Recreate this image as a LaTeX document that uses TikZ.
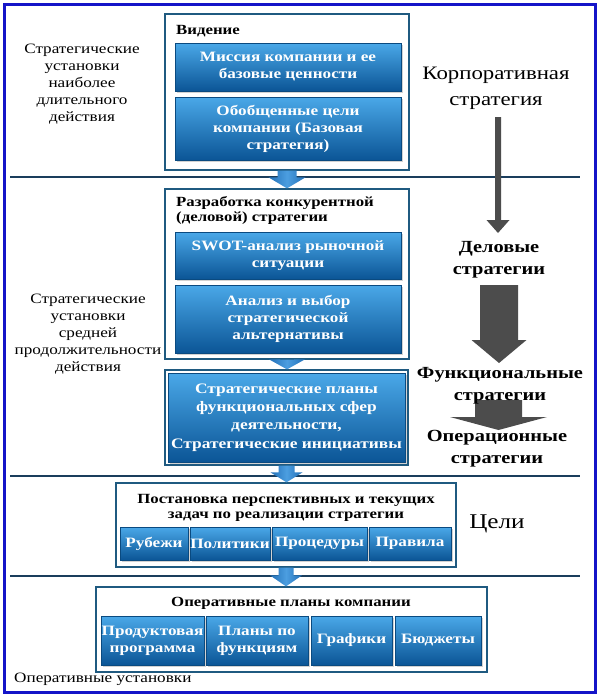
\documentclass[tikz,border=0pt]{standalone}
\usepackage{fontspec}
\setmainfont{Liberation Serif}[FakeStretch=1.2]
\usetikzlibrary{shadows,calc}
\definecolor{frameblue}{HTML}{1414C8}
\definecolor{boxline}{HTML}{1F5A80}
\definecolor{sepline}{HTML}{1A3D5C}
\definecolor{btop}{HTML}{4AA8E8}
\definecolor{bbot}{HTML}{0B5596}
\definecolor{bedge}{HTML}{0A4A80}
\definecolor{arrowblue}{HTML}{2270B8}
\definecolor{arrowlight}{HTML}{4C9EE0}
\definecolor{garrow}{HTML}{4C4C4C}
\newcommand\blockarr[6]{%
 \path[#6] let \p1=#1, \p2=#2 in
 (\x1-#3pt,\y1) -- (\x1+#3pt,\y1) -- (\x1+#3pt,\y2+#5pt) -- (\x1+#4pt,\y2+#5pt)
 -- (\x1,\y2) -- (\x1-#4pt,\y2+#5pt) -- (\x1-#3pt,\y2+#5pt) -- cycle;}
\tikzset{
 whitebox/.style={draw=boxline, line width=1.3pt, fill=white, inner sep=0pt},
 bluebox/.style={draw=bedge, line width=0.6pt, top color=btop, bottom color=bbot,
   drop shadow={opacity=0.35, shadow xshift=1.5pt, shadow yshift=-1.5pt},
   text=white, font=\bfseries\fontsize{14.3}{17}\selectfont, align=center, inner sep=0pt},
 titletext/.style={font=\bfseries\fontsize{14}{15}\selectfont, inner sep=0pt},
 sidetext/.style={font=\fontsize{14.3}{17}\selectfont, align=center, inner sep=0pt},
 bigtext/.style={font=\bfseries\fontsize{17}{22}\selectfont, align=center, inner sep=0pt},
 blockblue/.style={left color=arrowblue, right color=arrowblue, middle color=arrowlight},
 blockgray/.style={fill=garrow},
 sep/.style={draw=sepline, line width=1.4pt}
}
\begin{document}
\begin{tikzpicture}[x=1pt,y=-1pt]
\useasboundingbox (0,0) rectangle (600,696);
\fill[white] (0,0) rectangle (600,696);
% separator lines
\coordinate (l1a) at (10,177); \coordinate (l1b) at (580,177);
\coordinate (l2a) at (10,476); \coordinate (l2b) at (580,476);
\coordinate (l3a) at (10,576); \coordinate (l3b) at (580,576);
\draw[sep] (l1a) -- (l1b);
\draw[sep] (l2a) -- (l2b);
\draw[sep] (l3a) -- (l3b);
% box 1
\node[whitebox, minimum width=244, minimum height=156] (b1) at (287,92) {};
\node[titletext, anchor=west] (vid) at (176,31) {Видение};
\node[bluebox, minimum width=226, minimum height=48] (m1) at (288,67) {Миссия компании и ее\\базовые ценности};
\node[bluebox, minimum width=226, minimum height=63] (m2) at (288,128.5) {Обобщенные цели\\компании (Базовая\\стратегия)};
% box 2
\node[whitebox, minimum width=244, minimum height=170] (b2) at (287,274) {};
\node[titletext, anchor=west, align=left] (razr) at (176,210.5) {Разработка конкурентной\\(деловой) стратегии};
\node[bluebox, minimum width=226, minimum height=47] (s1) at (288,255.5) {SWOT-анализ рыночной\\ситуации};
\node[bluebox, minimum width=226, minimum height=68] (s2) at (288,319) {Анализ и выбор\\стратегической\\альтернативы};
% box 3
\node[whitebox, minimum width=243, minimum height=95] (b3) at (286.5,417.5) {};
\node[bluebox, minimum width=237, minimum height=89, font=\bfseries\fontsize{14.5}{18.3}\selectfont] (pl) at (286.5,417.5) {Стратегические планы\\функциональных сфер\\деятельности,\\Стратегические инициативы};
% box 4
\node[whitebox, minimum width=340, minimum height=84] (b4) at (286,525) {};
\node[titletext, align=center] (post) at (286,507.5) {Постановка перспективных и текущих\\задач по реализации стратегии};
\node[bluebox, minimum width=68, minimum height=33] (r1) at (154,543.5) {Рубежи};
\node[bluebox, minimum width=80, minimum height=33] (r2) at (230,543.5) {Политики};
\node[bluebox, minimum width=95, minimum height=33] (r3) at (319.5,543.5) {Процедуры};
\node[bluebox, minimum width=82, minimum height=33] (r4) at (410,543.5) {Правила};
% box 5
\node[whitebox, minimum width=391, minimum height=85] (b5) at (291.5,629.5) {};
\node[titletext] (oper) at (291,603) {Оперативные планы компании};
\node[bluebox, minimum width=103, minimum height=49] (p1) at (152.5,640.5) {Продуктовая\\программа};
\node[bluebox, minimum width=102, minimum height=49] (p2) at (257,640.5) {Планы по\\функциям};
\node[bluebox, minimum width=81, minimum height=49] (p3) at (351.5,640.5) {Графики};
\node[bluebox, minimum width=86, minimum height=49] (p4) at (438,640.5) {Бюджеты};
% blue arrows
\blockarr{(b1.south)}{(b2.north)}{9.5}{18.5}{11}{blockblue}
\blockarr{(b2.south)}{(b3.north)}{7}{18}{10}{blockblue}
\blockarr{(b3.south)}{(b4.north)}{8}{16}{10}{blockblue}
\blockarr{(b4.south)}{(b5.north)}{7.5}{16}{11}{blockblue}
% left labels
\node[sidetext] (lt1) at (82,84) {Стратегические\\установки\\наиболее\\длительного\\действия};
\node[sidetext] (lt2) at (88,334) {Стратегические\\установки\\средней\\продолжительности\\действия};
\node[sidetext, anchor=west] (lt3) at (14,679) {Оперативные установки};
% right labels and gray arrows
\node[font=\fontsize{19}{26}\selectfont, align=center, inner sep=0pt] (corp) at (496,88) {Корпоративная\\стратегия};
\node[bigtext] (delo) at (499,260) {Деловые\\стратегии};
\coordinate (g1s) at (498,117); \coordinate (g1e) at (498,233);
\blockarr{(g1s)}{(g1e)}{3}{11.5}{13}{blockgray}
\coordinate (g2s) at (499,285); \coordinate (g2e) at (499,363);
\blockarr{(g2s)}{(g2e)}{19}{27.5}{23}{blockgray}
\coordinate (g3s) at (498.5,400); \coordinate (g3e) at (498.5,430);
\blockarr{(g3s)}{(g3e)}{23.5}{48.5}{13}{blockgray}
\node[bigtext] (func) at (500,386) {Функциональные\\стратегии};
\node[bigtext] (operstr) at (497,449) {Операционные\\стратегии};
\node[font=\fontsize{21}{24}\selectfont, inner sep=0pt] (celi) at (497,524) {Цели};
% frame
\draw[frameblue, line width=3pt] (4,4) rectangle (595,692);
\end{tikzpicture}
\end{document}
